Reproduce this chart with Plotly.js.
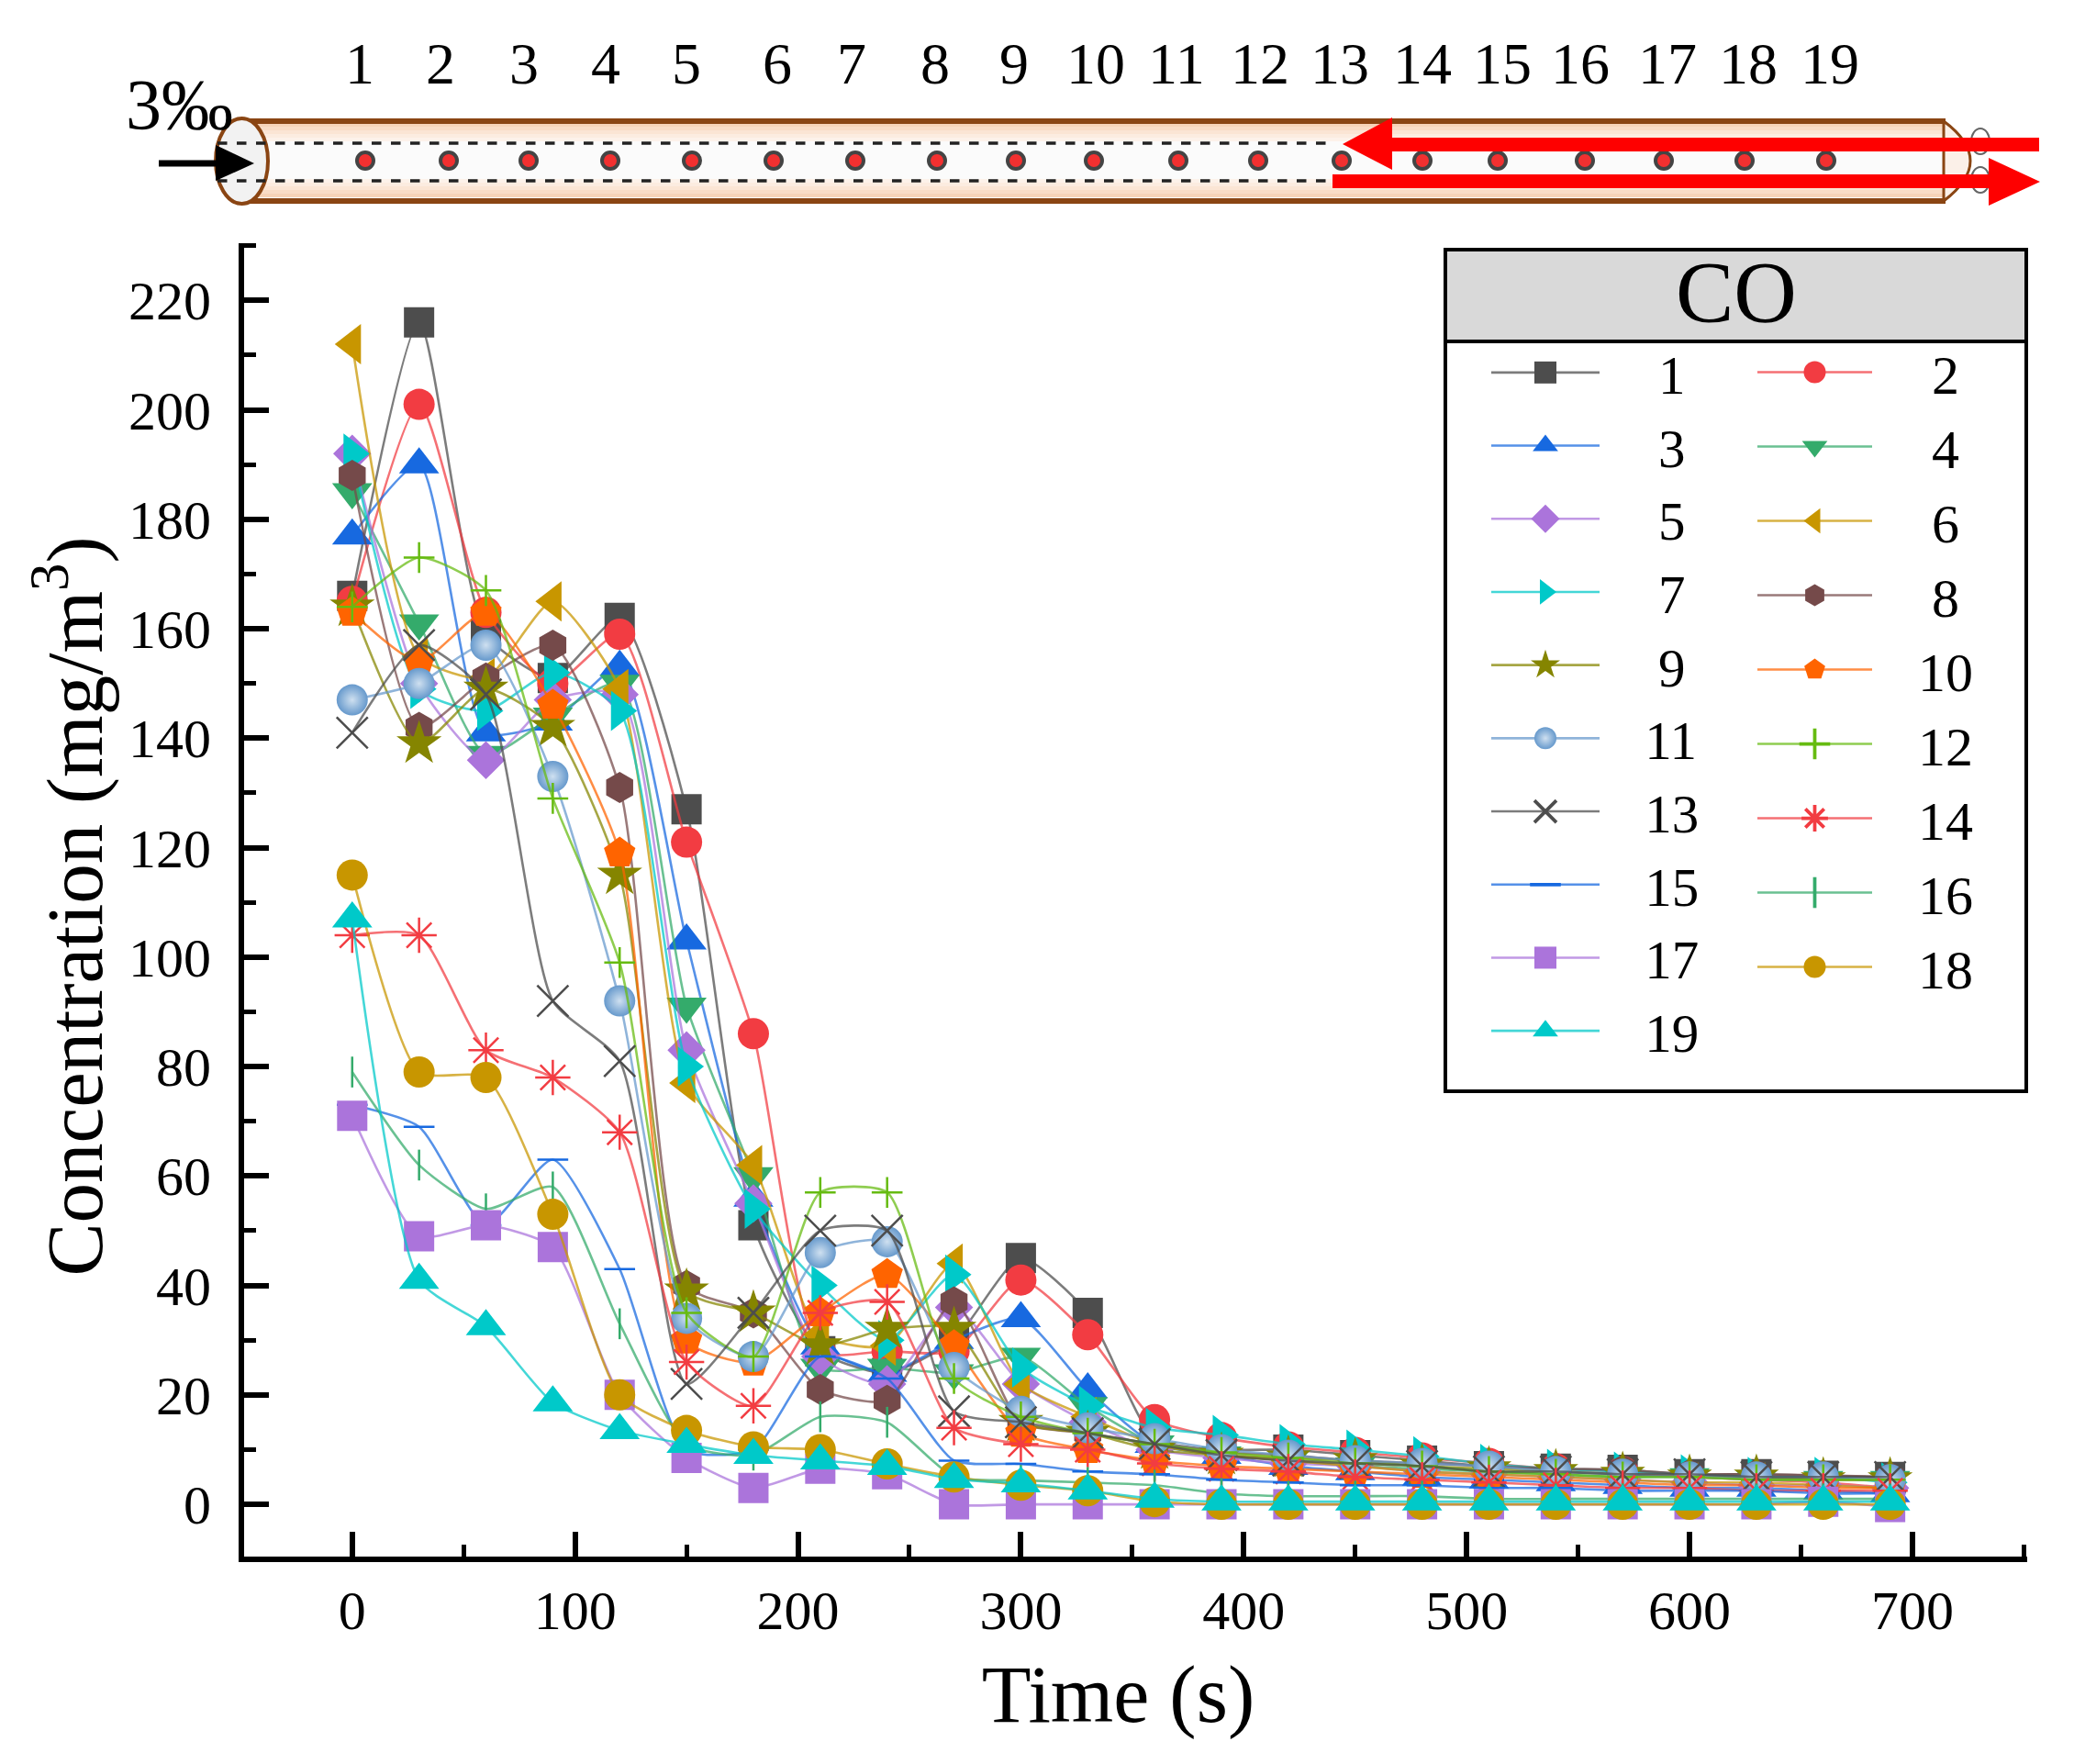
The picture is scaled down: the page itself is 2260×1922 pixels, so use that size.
<!DOCTYPE html>
<html>
<head>
<meta charset="utf-8">
<script src="https://cdn.plot.ly/plotly-3.0.1.min.js"></script>
<style>
  html, body { margin: 0; padding: 0; background: #fff; }
</style>
</head>
<body>
<div id="chart" style="width:2260px;height:1922px"></div>
<script>
const times = [0,30,60,90,120,150,180,210,240,270,300,330,360,390,420,450,480,510,540,570,600,630,660,690]

const s1  = [166,216,159,151,162,127,51,28,24,30,45,35,12,10,10,9,8,7,6.5,6.3,5.5,5.5,5.2,5]
const s2  = [165,201,163,150,159,121,86,28,28,28,41,31,15.5,12.2,10.5,9.5,8.5,7.5,6.5,6,5,4.5,4,3]
const s3  = [177,190,141,143,153,103,56,29,24,30,34,21,11,9,7,6,5,4.5,4,3.5,3,3,2.5,2]
const s4  = [185,161,137,144,150,91,60,25,25,24,27,18,11,9,8,7,6.5,6,5.5,5,5,4.5,4.5,4.5]
const s5  = [192,150,136,147,148,83,55,27,22,36,22,15,10,8.5,7.5,7,6,5.5,5,4.5,4,3.5,3.5,3]
const s6  = [212,155,151,165,149,77,62,31,29,44,22,16,11,9,8,7,6,5.5,5,4.5,4,4,3.5,3]
const s7  = [192,149,145,152,145,80,54,40,30,42,25,18,14,12.7,11,10,8.8,7.4,6.5,6,5.5,5,5,4]
const s8  = [188,142,151,157,131,40,35,21,19,37,15,13,11,9.5,9,8,7.5,7,6.5,6.3,5.5,5.5,5.3,5]
const s9  = [164,139,149,142,115,39,35,29,32,32,15,13,10,9,8.5,8,7,6.5,6,5.5,5,5,4.5,4.5]
const s10 = [163,154,163,146,119,30,26,35,42,29,13,10,8,7,6.5,6,5.5,5,4.5,4,3.5,3.5,3,3]
const s11 = [147,150,157,133,92,34,27,46,48,25,17,14,12,10,9,8,7.5,7,6,5.5,5,5,5,4.5]
const s12 = [164,173,167,129,99,35,27,57,57,23,16,13,11,9.5,8.5,7.5,7,6,5.5,5,5,4.5,4.5,4.5]
const s13 = [141,157,148,92,81,22,35,50,50,17,15,13,11,9,8,7.5,7,6,6,5.5,5.5,5,5,5]
const s14 = [104,104,83,78,68,26,18,35,37,14,11,10,7.5,6.5,6,5,4.5,4,3.5,3,3,2.5,2.5,2.5]
const s15 = [73,69,51,63,43,10,10,27,23,8,7.4,6,5.5,4.5,4,3.5,3.5,3,3,2.5,2.5,2.5,2,2]
const s16 = [79,62,54,58,33,11,9,16,15,5,4.4,4,3.5,2,1.5,1.5,1.5,1,1,1,1,1,1,1]
const s17 = [71,49,51,47,20,8.5,3,6.5,5.5,0,0,0,0,0,0,0,0,0,0,0,0,0,0.5,-0.5]
const s18 = [115,79,78,53,20,13.5,10.5,10,7.4,5,3.5,2.5,0.5,0,0,0,0,0,0,0,0,0,0,0]
const s19 = [107,41,32.5,18.6,13.5,11,9,8,7,4.6,3.8,2.5,1,0.5,0.5,0.5,0.5,0.5,0.5,0.5,0.5,0.5,0.5,0.5]

const seriesValues = [s1,s2,s3,s4,s5,s6,s7,s8,s9,s10,s11,s12,s13,s14,s15,s16,s17,s18,s19]
const seriesNames = ["1","2","3","4","5","6","7","8","9","10","11","12","13","14","15","16","17","18","19"]

const colors = ["#4d4d4d","#f23c42","#1769e0","#34ab6b","#ab74db","#c89600","#00c9c9","#754a4a","#858500","#ff6400",
                "#6699cc","#66bb11","#4d4d4d","#f23c42","#1769e0","#34ab6b","#ab74db","#c89600","#00c9c9"]
const symbols = ["square","circle","triangle-up","triangle-down","diamond","triangle-left","triangle-right","hexagon","star","pentagon",
                 "circle","cross-thin","x-thin","asterisk","line-ew","line-ns","square","circle","triangle-up"]
const sizes = [33,34,38,38,32,38,38,34,37,36,34,24,34,32,24,24,33,34,38]

const FONT = "Liberation Serif, Times New Roman, serif"

// schematic labels along the tube
const sensorLabels = seriesNames
const labelX = [392,480,571,660,748,847,928,1019,1105,1194,1282,1373,1460,1550,1637,1722,1817,1905,1994]
const sensorX = [398,489,576,665,754,843,932,1021,1107,1192,1284,1371,1462,1550,1632,1727,1813,1901,1990]

// plotly draws the axis lines just outside this box
const plotL = 266, plotR = 2209, plotT = 265, plotB = 1696
const px = x => (x - plotL) / (plotR - plotL)
const py = y => (plotB - y) / (plotB - plotT)

function rect(x0, y0, x1, y1, fill, line, lw) {
    return { type: "rect", xref: "paper", yref: "paper", x0: px(x0), x1: px(x1), y0: py(y0), y1: py(y1),
             fillcolor: fill, line: { color: line || fill, width: lw === undefined ? 0 : lw } }
}
function ellipse(x0, y0, x1, y1, fill, line, lw) {
    return { type: "circle", xref: "paper", yref: "paper", x0: px(x0), x1: px(x1), y0: py(y0), y1: py(y1),
             fillcolor: fill, line: { color: line, width: lw } }
}
function hline(x0, x1, y, color, width, dash) {
    return { type: "line", xref: "paper", yref: "paper", x0: px(x0), x1: px(x1), y0: py(y), y1: py(y),
             line: { color: color, width: width, dash: dash || "solid" } }
}
function poly(pts, fill) {
    const d = pts.map((p, i) => (i ? "L" : "M") + px(p[0]) + "," + py(p[1])).join(" ") + " Z"
    return { type: "path", xref: "paper", yref: "paper", path: d, fillcolor: fill, line: { width: 0 } }
}

function tubeShapes() {
    const shapes = []
    const peach = ["#f6d3b8","#f9dcc6","#fbe5d4","#fcece0","#fdf2ea"]
    shapes.push(rect(262, 131, 2118, 220, "#fbfbfb"))
    peach.forEach((c, i) => {
        shapes.push(rect(262, 134 + i * 4, 2118, 138 + i * 4, c))
        shapes.push(rect(262, 215 - (i + 1) * 4, 2118, 215 - i * 4, c))
    })
    shapes.push(hline(262, 2120, 132, "#8a4513", 6))
    shapes.push(hline(262, 2120, 219, "#8a4513", 6))
    // right end cap of the tube
    shapes.push({ type: "path", xref: "paper", yref: "paper", fillcolor: "#fbf0e8", line: { color: "#8a4513", width: 3 },
                  path: "M" + px(2118) + "," + py(132) + " Q" + px(2176) + "," + py(175) + " " + px(2118) + "," + py(219) + " Z" })
    shapes.push(ellipse(235, 129, 292, 222, "#f2f2f2", "#8a4513", 4))
    shapes.push(hline(237, 1455, 156, "#222", 3.5, "dash"))
    shapes.push(hline(237, 1455, 197, "#222", 3.5, "dash"))
    sensorX.forEach(x => shapes.push(ellipse(x - 9, 166, x + 9, 184, "#f23030", "#444", 4)))
    // black inlet arrow
    shapes.push(hline(173, 240, 178, "#000", 7))
    shapes.push(poly([[235, 158], [277, 178], [235, 197]], "#000"))
    // exit markers
    shapes.push(ellipse(2148, 140, 2168, 168, "rgba(0,0,0,0)", "#666", 2))
    shapes.push(ellipse(2148, 182, 2168, 210, "rgba(0,0,0,0)", "#666", 2))
    // red arrows
    shapes.push(poly([[2222, 150], [1517, 150], [1517, 128], [1463, 157], [1517, 185], [1517, 165], [2222, 165]], "#fe0000"))
    shapes.push(poly([[1452, 190], [2167, 190], [2167, 172], [2223, 198], [2167, 224], [2167, 205], [1452, 205]], "#fe0000"))
    return shapes
}

function legendShapes() {
    return [
        rect(1575, 272, 2208, 372, "#d9d9d9", "#000", 0),
        rect(1575, 272, 2208, 1189, "rgba(0,0,0,0)", "#000", 4),
        hline(1575, 2208, 372, "#000", 4)
    ]
}

const traces = seriesValues.map((vals, i) => {
    const thin = ["cross-thin","x-thin","asterisk","line-ew","line-ns"].includes(symbols[i])
    const marker = {
        symbol: symbols[i], size: sizes[i], color: colors[i],
        line: thin ? { color: colors[i], width: 2.5 } : { width: 0 }
    }
    if (i === 10) marker.gradient = { type: "radial", color: "#cfe0f0" }
    return {
        x: times, y: vals, name: (i < 9 ? "\u2005" : "") + "\u2002\u2005" + seriesNames[i],
        type: "scatter", mode: "lines+markers",
        legend: i % 2 ? "legend2" : "legend",
        line: { color: colors[i] + "bb", width: 2.6, shape: "spline", smoothing: 0.6 },
        marker: marker,
        cliponaxis: false
    }
})

const annotations = [
    { text: "CO", x: px(1892), y: py(319), font: { size: 95 } },
    { text: "3\u2030", x: px(195), y: py(113), font: { size: 78 } }
].concat(sensorLabels.map((t, i) => ({ text: t, x: px(labelX[i]), y: py(70), font: { size: 64 } })))
annotations.forEach(a => {
    a.xref = "paper"; a.yref = "paper"; a.showarrow = false
    a.xanchor = "center"; a.yanchor = "middle"
    a.font.family = FONT; a.font.color = "#000"
})

const legendBase = {
    orientation: "v", xanchor: "left", yanchor: "top", bgcolor: "rgba(0,0,0,0)", tracegroupgap: 0
}

const layout = {
    width: 2260, height: 1922, autosize: false,
    margin: { l: plotL, r: 2260 - plotR, t: plotT, b: 1922 - plotB, pad: 0 },
    paper_bgcolor: "#fff", plot_bgcolor: "#fff",
    font: { family: FONT, color: "#000" },
    showlegend: true,
    legend: Object.assign({}, legendBase, { x: px(1620), y: py(361), itemwidth: 118, font: { family: FONT, size: 59, color: "#000" } }),
    legend2: Object.assign({}, legendBase, { x: px(1910), y: py(360), itemwidth: 125, font: { family: FONT, size: 60, color: "#000" } }),
    xaxis: {
        range: [-48.5, 751.5], tick0: 0, dtick: 100, showgrid: false, zeroline: false,
        ticks: "inside", ticklen: 27, tickwidth: 6, tickcolor: "#000",
        showline: true, linecolor: "#000", linewidth: 6,
        ticklabelstandoff: 1,
        tickfont: { family: FONT, size: 60, color: "#000" },
        minor: { dtick: 50, ticks: "inside", ticklen: 13, tickwidth: 5, tickcolor: "#000", showgrid: false },
        title: { text: "Time (s)", font: { family: FONT, size: 88, color: "#000" } }
    },
    yaxis: {
        range: [-9.54, 230.45], tick0: 0, dtick: 20, showgrid: false, zeroline: false,
        ticks: "inside", ticklen: 27, tickwidth: 6, tickcolor: "#000",
        showline: true, linecolor: "#000", linewidth: 6,
        ticklabelstandoff: 18,
        tickfont: { family: FONT, size: 60, color: "#000" },
        minor: { dtick: 10, ticks: "inside", ticklen: 13, tickwidth: 5, tickcolor: "#000", showgrid: false },
        title: { text: "Concentration (mg/m<sup>3</sup>)", font: { family: FONT, size: 87, color: "#000" } }
    },
    shapes: tubeShapes().concat(legendShapes()),
    annotations: annotations
}

Plotly.newPlot("chart", traces, layout, { displayModeBar: false, responsive: false }).then(gd => {
    // legend markers are capped at 16px by plotly, the figure has bigger ones
    gd.querySelectorAll(".legendpoints path.scatterpts").forEach(p => {
        p.setAttribute("transform", (p.getAttribute("transform") || "") + " scale(1.5)")
    })
    // axis titles sit off-centre in the figure
    const nudge = (sel, dx, dy) => {
        const t = gd.querySelector(sel)
        t.setAttribute("transform", "translate(" + dx + "," + dy + ") " + (t.getAttribute("transform") || ""))
    }
    nudge(".xtitle", -19, -27)
    nudge(".ytitle", 20, 7)
})
</script>
</body>
</html>
